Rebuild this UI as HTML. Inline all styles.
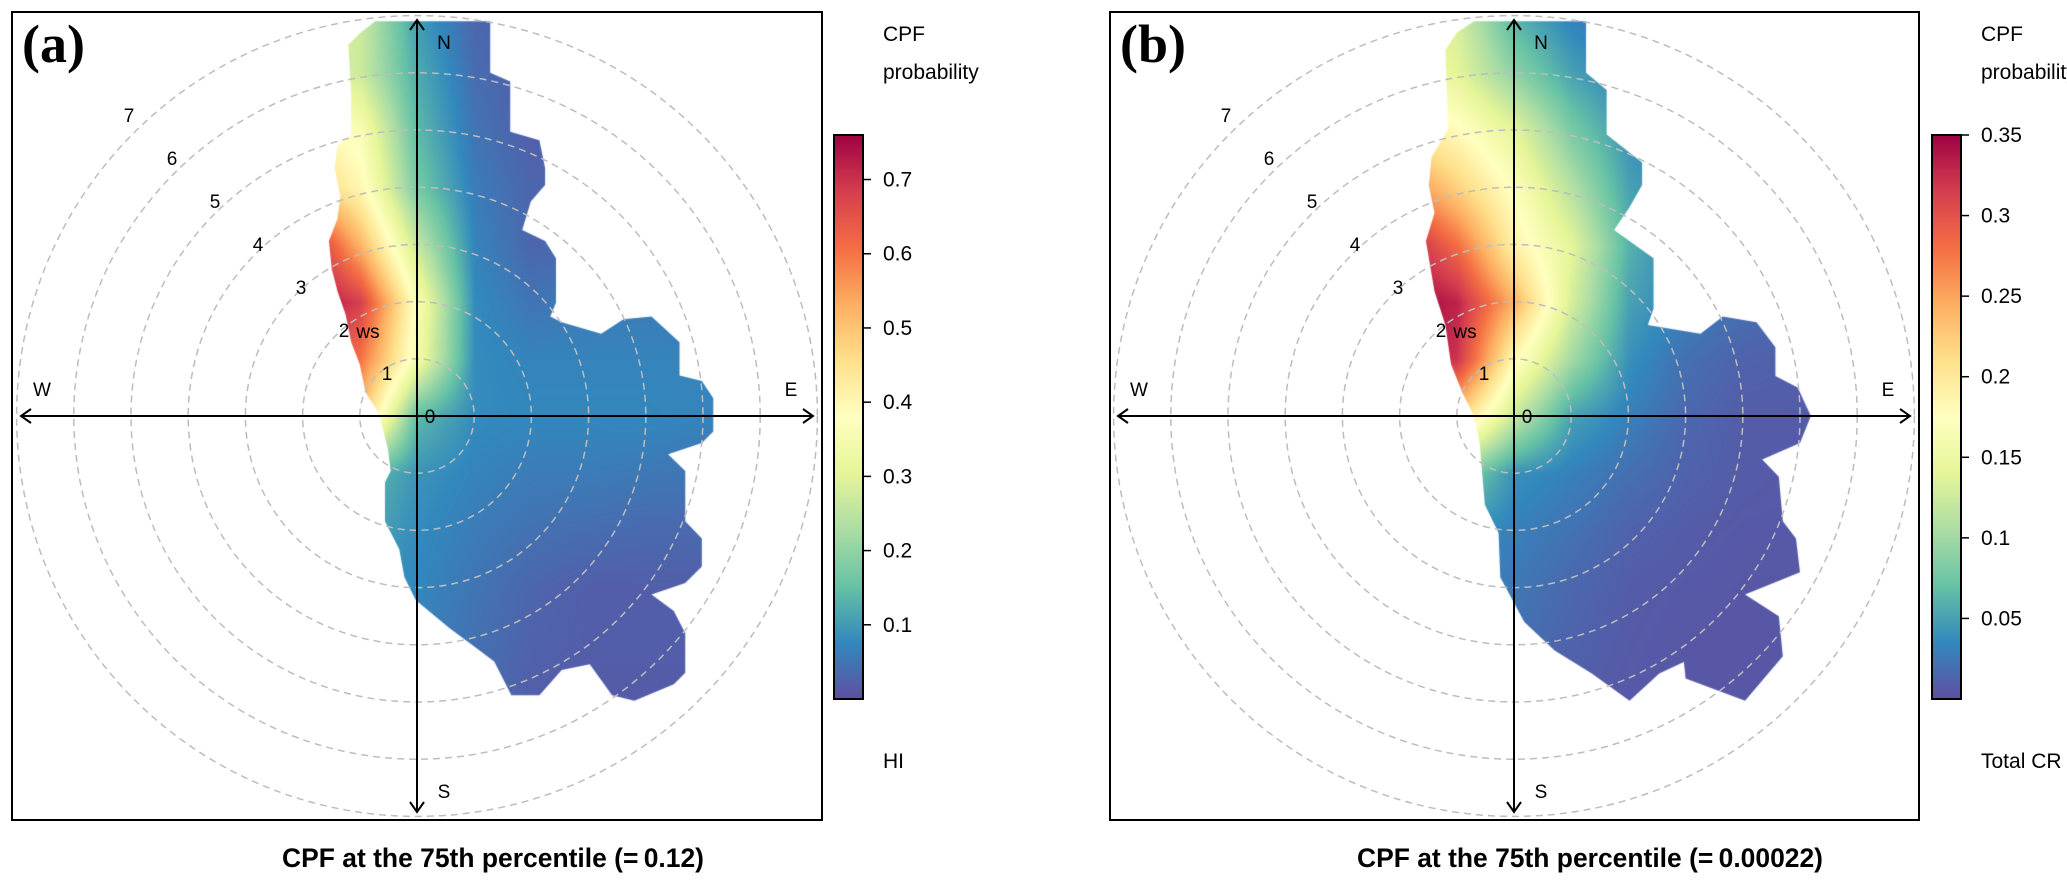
<!DOCTYPE html>
<html><head><meta charset="utf-8"><style>
html,body{margin:0;padding:0;background:#fff;}
#wrap{position:relative;width:2067px;height:880px;overflow:hidden;}
canvas,svg{position:absolute;left:0;top:0;}
</style></head><body>
<div id="wrap">
<canvas id="cv" width="2067" height="880"></canvas>
<svg id="sv" width="2067" height="880" xmlns="http://www.w3.org/2000/svg">
<defs>
<linearGradient id="spec" x1="0" y1="1" x2="0" y2="0">
<stop offset="0" stop-color="#5E4FA2"/><stop offset="0.1" stop-color="#3288BD"/><stop offset="0.2" stop-color="#66C2A5"/><stop offset="0.3" stop-color="#ABDDA4"/><stop offset="0.4" stop-color="#E6F598"/><stop offset="0.5" stop-color="#FFFFBF"/><stop offset="0.6" stop-color="#FEE08B"/><stop offset="0.7" stop-color="#FDAE61"/><stop offset="0.8" stop-color="#F46D43"/><stop offset="0.9" stop-color="#D53E4F"/><stop offset="1" stop-color="#9E0142"/>
</linearGradient>
</defs>
</svg>
</div>
<script>
// grid coordinates (wind-speed units)
const gridX = [-2,-1,0,1,2,3,4,5];
const gridY = [7,6,5,4,3,2,1,0,-1,-2,-3,-4,-5,-6];
// panel (a) HI CPF values, rows follow gridY
const valuesA = [
[0.30,0.27,0.10,0.03,0.02,0.02,0.02,0.02],
[0.30,0.27,0.12,0.04,0.02,0.02,0.02,0.02],
[0.40,0.36,0.14,0.05,0.02,0.02,0.02,0.02],
[0.50,0.40,0.17,0.06,0.03,0.03,0.03,0.03],
[0.74,0.52,0.26,0.07,0.03,0.04,0.04,0.04],
[0.76,0.68,0.36,0.08,0.05,0.06,0.06,0.06],
[0.70,0.60,0.34,0.08,0.07,0.07,0.07,0.07],
[0.50,0.50,0.14,0.08,0.075,0.075,0.075,0.07],
[0.16,0.15,0.09,0.07,0.06,0.06,0.055,0.05],
[0.13,0.12,0.08,0.06,0.045,0.04,0.035,0.035],
[0.10,0.09,0.075,0.05,0.03,0.02,0.02,0.02],
[0.09,0.08,0.07,0.045,0.025,0.02,0.02,0.02],
[0.08,0.07,0.06,0.04,0.02,0.015,0.015,0.015],
[0.07,0.06,0.05,0.03,0.02,0.015,0.015,0.015]];
// panel (b) Total CR CPF values
const valuesB = [
[0.14,0.13,0.06,0.03,0.02,0.02,0.02,0.02],
[0.16,0.14,0.09,0.05,0.03,0.02,0.02,0.02],
[0.20,0.18,0.14,0.08,0.04,0.03,0.02,0.02],
[0.27,0.22,0.17,0.11,0.05,0.03,0.02,0.02],
[0.34,0.28,0.19,0.14,0.06,0.03,0.02,0.02],
[0.35,0.33,0.24,0.13,0.05,0.03,0.02,0.015],
[0.35,0.32,0.18,0.10,0.04,0.02,0.012,0.01],
[0.25,0.22,0.12,0.05,0.03,0.015,0.008,0.008],
[0.10,0.09,0.04,0.03,0.02,0.012,0.008,0.006],
[0.05,0.04,0.03,0.022,0.012,0.008,0.006,0.006],
[0.04,0.03,0.025,0.015,0.008,0.006,0.005,0.005],
[0.03,0.02,0.02,0.012,0.007,0.005,0.005,0.005],
[0.02,0.02,0.015,0.008,0.006,0.005,0.005,0.005],
[0.02,0.02,0.015,0.008,0.006,0.005,0.005,0.005]];
// data extent outlines (x, y in wind-speed units)
const outlineAx = [-0.73,1.28,1.28,1.63,1.63,2.14,2.24,2.24,1.99,1.84,2.24,2.43,2.43,2.33,2.53,3.22,3.61,4.1,4.59,4.59,4.98,5.18,5.18,4.98,4.39,4.69,4.69,4.98,4.98,4.69,4.1,4.49,4.69,4.69,4.49,3.8,3.41,3.02,2.53,2.14,1.65,1.35,0.96,0.57,-0.02,-0.22,-0.31,-0.56,-0.56,-0.46,-0.51,-0.61,-0.71,-0.9,-1.0,-1.15,-1.25,-1.39,-1.49,-1.54,-1.39,-1.34,-1.44,-1.39,-1.15,-1.15,-1.2,-1.0];
const outlineAy = [6.9,6.9,6.0,5.85,4.97,4.82,4.33,4.04,3.75,3.25,3.06,2.76,1.98,1.74,1.64,1.44,1.69,1.74,1.29,0.71,0.61,0.31,-0.27,-0.47,-0.67,-0.96,-1.84,-2.14,-2.63,-2.92,-3.12,-3.41,-3.8,-4.49,-4.69,-4.98,-4.88,-4.34,-4.44,-4.88,-4.88,-4.29,-4.0,-3.71,-3.22,-2.82,-2.33,-1.84,-1.16,-0.96,-0.57,-0.18,0.12,0.41,0.9,1.29,1.78,2.18,2.57,3.06,3.45,3.84,4.33,4.73,4.92,5.61,6.49,6.69];
const outlineBx = [-0.7,1.26,1.26,1.62,1.62,2.24,2.24,2.02,1.75,2.44,2.44,2.34,3.26,3.65,4.24,4.57,4.57,4.96,5.19,5.0,4.34,4.63,4.7,4.93,5.0,4.04,4.63,4.7,4.04,3.0,2.97,2.54,2.02,1.36,0.71,0.18,-0.24,-0.27,-0.51,-0.6,-0.7,-0.9,-1.1,-1.2,-1.39,-1.54,-1.39,-1.49,-1.44,-1.15,-1.2,-1.0];
const outlineBy = [6.9,6.9,6.0,5.7,4.92,4.43,4.04,3.65,3.25,2.76,1.88,1.59,1.44,1.74,1.64,1.2,0.7,0.5,0,-0.47,-0.76,-1.06,-1.84,-2.14,-2.73,-3.12,-3.5,-4.2,-4.98,-4.59,-4.3,-4.5,-4.98,-4.5,-4.1,-3.6,-2.82,-2.04,-1.55,-0.47,0,0.4,0.9,1.59,2.18,3.06,3.55,4.04,4.53,5.02,6.4,6.7];
const ticksA = [0.1,0.2,0.3,0.4,0.5,0.6,0.7];
const tickLabelsA = ["0.1","0.2","0.3","0.4","0.5","0.6","0.7"];
const ticksB = [0.05,0.1,0.15,0.2,0.25,0.3,0.35];
const tickLabelsB = ["0.05","0.1","0.15","0.2","0.25","0.3","0.35"];
const ringLabels = ["0","1","2","3","4","5","6","7"];
const palette = ["#5E4FA2","#3288BD","#66C2A5","#ABDDA4","#E6F598","#FFFFBF","#FEE08B","#FDAE61","#F46D43","#D53E4F","#9E0142"];

const U = 57.2;
const panels = [
 {id:'a', cx:417, cy:416, box:[12,12,822,820], vmax:0.76, vals:valuesA, ox:outlineAx, oy:outlineAy, cb:834, lab:883, ticks:ticksA, tl:tickLabelsA, unit:'HI', cap:'CPF at the 75th percentile (=\u20090.12)', capX:493, capW:422},
 {id:'b', cx:1514, cy:416, box:[1110,12,1919,820], vmax:0.35, vals:valuesB, ox:outlineBx, oy:outlineBy, cb:1932, lab:1981, ticks:ticksB, tl:tickLabelsB, unit:'Total CR', cap:'CPF at the 75th percentile (=\u20090.00022)', capX:1590, capW:466}
];
const palRGB = palette.map(h=>[parseInt(h.substr(1,2),16),parseInt(h.substr(3,2),16),parseInt(h.substr(5,2),16)]);
function colorOf(t){t=Math.max(0,Math.min(1,t))*10;const i=Math.min(9,Math.floor(t)),f=t-i;const a=palRGB[i],b=palRGB[i+1];return [a[0]+(b[0]-a[0])*f,a[1]+(b[1]-a[1])*f,a[2]+(b[2]-a[2])*f];}
function sample(vals,x,y){
 let fx=(x-gridX[0]); fx=Math.max(0,Math.min(gridX.length-1.0001,fx));
 let fy=(gridY[0]-y); fy=Math.max(0,Math.min(gridY.length-1.0001,fy));
 const i=Math.floor(fx),j=Math.floor(fy),u=fx-i,v=fy-j;
 const a=vals[j][i],b=vals[j][i+1],c=vals[j+1][i],d=vals[j+1][i+1];
 return a*(1-u)*(1-v)+b*u*(1-v)+c*(1-u)*v+d*u*v;
}
const cv=document.getElementById('cv'),ctx=cv.getContext('2d');
const NS='http://www.w3.org/2000/svg',sv=document.getElementById('sv');
function mk(tag,attrs,parent){const e=document.createElementNS(NS,tag);for(const k in attrs)e.setAttribute(k,attrs[k]);(parent||sv).appendChild(e);return e;}
panels.forEach(p=>{
 const [x0,y0,x1,y1]=p.box,w=x1-x0,h=y1-y0;
 const off=document.createElement('canvas');off.width=w;off.height=h;
 const oc=off.getContext('2d'),img=oc.createImageData(w,h);
 for(let py=0;py<h;py+=2)for(let px=0;px<w;px+=2){
  const x=(x0+px-p.cx)/U,y=(p.cy-(y0+py))/U;
  const c=colorOf(sample(p.vals,x,y)/p.vmax);
  for(let dy=0;dy<2;dy++)for(let dx=0;dx<2;dx++){if(px+dx>=w||py+dy>=h)continue;const k=((py+dy)*w+px+dx)*4;img.data[k]=c[0];img.data[k+1]=c[1];img.data[k+2]=c[2];img.data[k+3]=255;}
 }
 oc.putImageData(img,0,0);
 ctx.save();ctx.beginPath();
 p.ox.forEach((v,i)=>{const X=p.cx+v*U,Y=p.cy-p.oy[i]*U;if(i)ctx.lineTo(X,Y);else ctx.moveTo(X,Y);});
 ctx.closePath();ctx.clip();ctx.drawImage(off,x0,y0);ctx.restore();

 const g=mk('g',{});
 
 
 for(let k=1;k<=7;k++){
  const c=mk('circle',{cx:p.cx,cy:p.cy,r:k*U,fill:'none',stroke:'#bdbdbd','stroke-width':1.5,'stroke-dasharray':'7 5'},g);
  
  
 }
 const L=396;
 [[0,-1],[0,1],[-1,0],[1,0]].forEach(d=>{
  const ex=p.cx+d[0]*L,ey=p.cy+d[1]*L;
  const ln=mk('line',{x1:p.cx,y1:p.cy,x2:ex,y2:ey,stroke:'#000','stroke-width':2},g);
  
  
  const px=-d[1],py=d[0];
  mk('polyline',{points:`${ex-d[0]*10+px*7},${ey-d[1]*10+py*7} ${ex},${ey} ${ex-d[0]*10-px*7},${ey-d[1]*10-py*7}`,fill:'none',stroke:'#000','stroke-width':2},g);
 });
 const txt=(s,x,y,attrs,name)=>{const t=mk('text',Object.assign({x:x,y:y,'font-family':'"Liberation Sans", sans-serif','font-size':19,fill:'#000'},attrs||{}),g);t.textContent=s;return t;};
 txt('N',p.cx+27,p.cy-367,{'text-anchor':'middle'},'north-label');
 txt('S',p.cx+27,p.cy+382,{'text-anchor':'middle'},'south-label');
 txt('W',p.cx-375,p.cy-20,{'text-anchor':'middle'},'west-label');
 txt('E',p.cx+374,p.cy-20,{'text-anchor':'middle'},'east-label');
 ringLabels.forEach((s,k)=>{txt(s,p.cx+13-43*k,p.cy-43*k+7,{'text-anchor':'middle'},'ring-label-'+s);});
 txt('ws',p.cx-49,p.cy-78,{'text-anchor':'middle'},'ws-label');
 const pl=mk('text',{x:x0+10,y:62,'font-family':'"Liberation Serif", serif','font-size':54,'font-weight':'bold'},g);
 pl.textContent='('+p.id+')';
 
 
 const bx=mk('rect',{x:x0,y:y0,width:w,height:h,fill:'none',stroke:'#000','stroke-width':2},g);
 
 
 const cbTop=135,cbBot=699;
 const bar=mk('rect',{x:p.cb,y:cbTop,width:29,height:cbBot-cbTop,fill:'url(#spec)',stroke:'#000','stroke-width':2},g);
 
 
 const yOf=v=>cbBot-(v/p.vmax)*(cbBot-cbTop);
 p.ticks.forEach((v,i)=>{
  mk('line',{x1:p.cb+29,x2:p.cb+37,y1:yOf(v),y2:yOf(v),stroke:'#000','stroke-width':1.5},g);
  txt(p.tl[i],p.lab,yOf(v)+7,{'font-size':21},'colorbar-tick-label');
 });
 txt('CPF',p.lab,41,{'font-size':21},'colorbar-title-cpf');
 txt('probability',p.lab,79,{'font-size':21},'colorbar-title-probability');
 txt(p.unit,p.lab,768,{'font-size':21},'colorbar-unit-label');
 txt(p.cap,p.capX,867,{'text-anchor':'middle','font-size':27,'font-weight':'bold',textLength:p.capW,lengthAdjust:'spacingAndGlyphs'},'panel-caption-'+p.id);
});
</script>
</body></html>
